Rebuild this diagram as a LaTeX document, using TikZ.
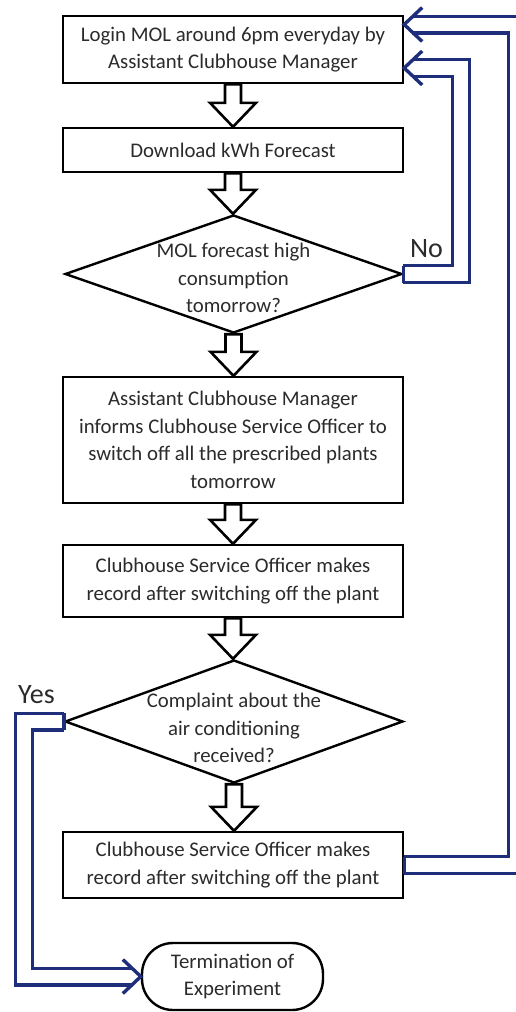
\documentclass[tikz,border=0pt]{standalone}
\usepackage{fontspec}
\setmainfont{Carlito}
\usetikzlibrary{arrows.meta,positioning,calc,shapes.geometric}
\definecolor{Ink}{HTML}{2B2B2B}
\definecolor{Loop}{HTML}{1F2E7A}

\newcommand{\flowarrow}[2]{%
  \draw[blockarrow] let \p1=(#1.south), \p2=(#2.north) in
    (\x1-8pt,\y1) -- (\x1-8pt,\y2+24pt) -- (\x1-23pt,\y2+24pt) -- (\x1,\y2) --
    (\x1+23pt,\y2+24pt) -- (\x1+8pt,\y2+24pt) -- (\x1+8pt,\y1) -- cycle;}
\newcommand{\loophead}[2]{%
  \draw[loopedge] ([shift={(#2*18pt,17pt)}]#1) -- (#1) -- ([shift={(#2*18pt,-17pt)}]#1);}
\newcommand{\loopcap}[1]{%
  \draw[loopedge] ([yshift=8.5pt]#1) -- ([yshift=-8.5pt]#1);}

\begin{document}
\begin{tikzpicture}[x=1pt,y=-1pt,
  txt/.style={font=\fontsize{20.8}{27.5}\selectfont,text=Ink,align=center},
  tag/.style={font=\fontsize{28}{30}\selectfont,text=Ink},
  box/.style={txt,draw=black,line width=2.4pt,fill=white,inner sep=0pt,minimum width=340pt},
  test/.style={draw=black,line width=2.4pt,shape=diamond,inner sep=0pt},
  term/.style={txt,draw=black,line width=2.4pt,rounded corners=31pt,inner sep=0pt,minimum width=181pt,minimum height=67pt},
  blockarrow/.style={draw=black,fill=white,line width=2.6pt,line join=miter},
  loopline/.style={draw=Loop,line width=3.2pt,double=white,double distance=13.6pt},
  loopedge/.style={draw=Loop,line width=3.4pt,line join=miter}]
\useasboundingbox (0,0) rectangle (515,1012);
% main column
\node[box,minimum height=67pt] (login) at (233,49.5) {Login MOL around 6pm everyday by\\Assistant Clubhouse Manager};
\node[box,minimum height=44pt] (download) at (233,150) {Download kWh Forecast};
\node[test,minimum width=337pt,minimum height=118pt,label={[txt,yshift=-4pt]center:MOL forecast high\\consumption\\tomorrow?}] (highq) at (233.5,274) {};
\node[box,minimum height=126pt] (inform) at (233,440) {Assistant Clubhouse Manager\\informs Clubhouse Service Officer to\\switch off all the prescribed plants\\tomorrow};
\node[box,minimum height=72pt] (record) at (233,581) {Clubhouse Service Officer makes\\record after switching off the plant};
\node[test,minimum width=338pt,minimum height=123pt,label={[txt,yshift=-6.5pt]center:Complaint about the\\air conditioning\\received?}] (complaint) at (234,721.5) {};
\node[box,minimum height=66pt] (record2) at (233,865) {Clubhouse Service Officer makes\\record after switching off the plant};
\node[term] (stop) at (232.5,976.5) {Termination of\\Experiment};
\foreach \a/\b in {login/download,download/highq,highq/inform,inform/record,record/complaint,complaint/record2} {\flowarrow{\a}{\b}}
% loops back
\coordinate (noend) at ([yshift=-18.5pt]login.east);
\coordinate (backend) at ([yshift=25pt]login.east);
\draw[loopline,shorten >=8pt] (highq.east) -- ++(58,0) |- (noend);
\draw[loopline,shorten >=8pt] (record2.east) -- ++(113,0) |- (backend);
\draw[loopline,shorten >=8pt] (complaint.west) -- ++(-40,0) |- (stop.west);
\loophead{noend}{1}
\loophead{backend}{1}
\loophead{stop.west}{-1}
\loopcap{highq.east}
\loopcap{record2.east}
\loopcap{complaint.west}
\node[tag,anchor=base] (no) at (426.5,257) {No};
\node[tag,anchor=base] (yes) at (36.5,703) {Yes};
\end{tikzpicture}
\end{document}
